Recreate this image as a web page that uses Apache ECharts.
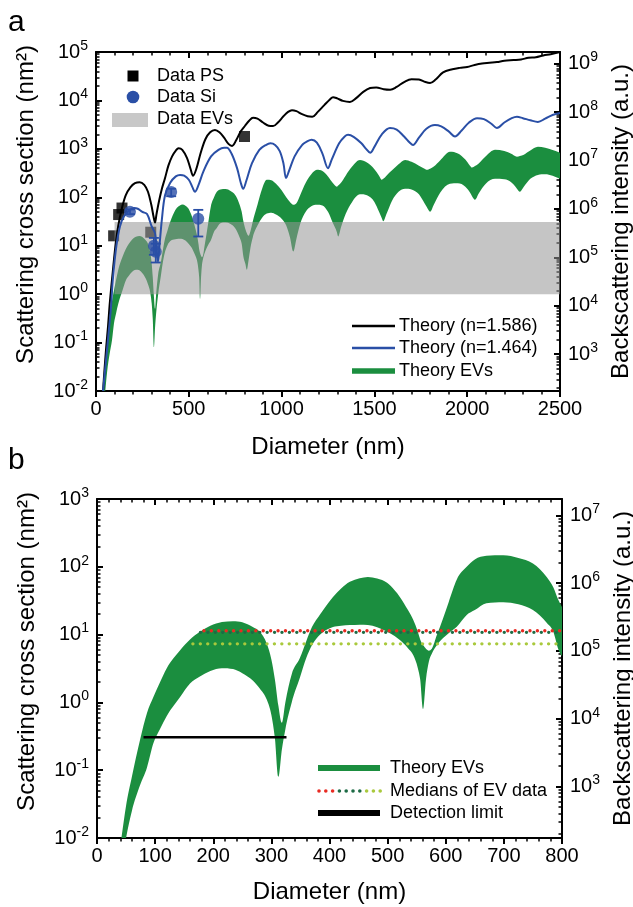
<!DOCTYPE html>
<html>
<head>
<meta charset="utf-8">
<script src="https://cdn.jsdelivr.net/npm/echarts@6/dist/echarts.min.js"></script>
<style>
  html, body { margin: 0; padding: 0; background: #fff; }
  #chart { width: 633px; height: 907px; }
</style>
</head>
<body>
<div id="chart"></div>
<script>
// ---------- data ----------
// Theory, polystyrene spheres (n = 1.586): diameter (nm) / cross section (nm^2)
const blackD = [38,45,55,65,75,90,105,120,140,160,185,210,235,260,280,298,310,318,326,340,355,372,390,410,430,445,465,490,510,523,540,565,590,615,641,665,690,715,733,755,780,803,825,846,870,900,930,954,980,1010,1035,1056,1080,1110,1140,1165,1195,1230,1260,1277,1300,1330,1368,1400,1440,1477,1510,1550,1585,1620,1660,1700,1740,1775,1800,1830,1870,1920,1960,2000,2040,2080,2120,2160,2200,2250,2290,2330,2370,2410,2450,2500];
const blackV = [0.01,0.025,0.08,0.22,0.7,2.8,10,26,60,110,160,195,205,180,130,70,40,30,45,85,150,250,450,700,920,1030,950,650,380,280,380,850,1600,2200,2450,2200,1700,1250,1150,1500,2300,3000,3800,4400,4200,3500,3000,2950,3500,4700,5800,6300,6000,5200,4700,4600,5800,8000,10500,11700,11000,9800,9300,11000,15000,18000,18500,17000,16600,19000,24000,27500,27000,24000,23000,27000,38000,44000,47000,49000,54000,58000,60000,62000,66000,68000,70000,76000,78000,85000,90000,100000];

// Theory, silica spheres (n = 1.464)
const blueD = [38,50,65,80,92,110,129,150,183,205,225,250,275,300,318,327,334,342,355,372,400,430,453,475,500,520,533,550,580,620,660,690,705,730,760,780,793,810,840,880,915,940,965,990,1010,1024,1040,1070,1110,1140,1162,1190,1220,1250,1270,1310,1340,1358,1390,1430,1455,1477,1500,1540,1584,1620,1660,1690,1708,1740,1780,1826,1860,1900,1934,1970,2010,2053,2090,2130,2160,2200,2240,2268,2300,2340,2381,2420,2460,2500];
const blueV = [0.01,0.03,0.12,0.5,2.3,10,25,40,55,60,58,50,45,25,18,8,4.7,10,35,110,200,270,290,280,230,160,130,170,350,700,950,1050,1050,800,400,200,150,220,500,950,1200,1300,1200,900,500,250,350,700,1200,1450,1550,1350,800,400,600,1300,1800,1950,1750,1300,1000,830,1100,2000,2700,2500,1800,1350,1200,1700,2600,3100,2900,2300,1800,2400,3500,4300,4100,3300,2700,3500,4300,4600,4300,3900,3600,4200,5000,5500];

// Theory, extracellular vesicles: band between lower and upper envelope
const bandD = [30,42,50,60,74,86,97,108,120,143,160,177,195,215,234,250,268,280,292,300,306,312,318,324,335,349,360,370,384,406,420,435,452,466,482,499,512,521,535,544,552,556,561,566,571,576,585,595,605,619,636,650,670,699,725,750,774,785,794,805,813,822,832,845,870,895,920,945,970,1000,1025,1045,1063,1080,1100,1130,1160,1190,1220,1250,1275,1298,1305,1320,1345,1380,1422,1460,1500,1525,1540,1548,1565,1595,1630,1665,1700,1740,1770,1783,1800,1820,1855,1907,1950,1990,2015,2026,2042,2062,2100,2150,2200,2240,2260,2268,2284,2305,2340,2381,2420,2460,2500];
const bandUpper = [0.002,0.01,0.03,0.08,0.28,0.7,1.2,1.95,3.2,5.9,8.5,11,13.5,15.3,15.8,15.2,12.9,11,7.4,4.3,2.2,0.9,0.5,1.0,2.6,4.5,8,13,20,36,48,60,68,71,67,58,45,36,23,16.6,11,8.5,7,6.2,5.8,6.2,10,17,30,65,100,128,145,148,135,112,70,50,32,22,18,16,20,32,70,150,230,225,190,140,100,80,70,75,110,200,300,370,350,270,200,166,175,200,280,430,590,520,380,280,230,240,280,360,480,590,540,450,390,370,390,430,580,870,800,600,450,410,440,500,700,955,900,780,700,690,710,760,920,1100,1050,950,830];
const bandLower = [0.0008,0.004,0.01,0.025,0.06,0.11,0.25,0.4,0.63,1.2,1.9,2.4,2.9,3.2,3.1,2.7,2.1,1.6,1.1,0.65,0.3,0.08,0.2,0.4,1.0,2.3,4.5,7,10,12.9,13.5,13.8,14,13.8,12.8,11,9.5,8.3,6.3,5,3.2,2.2,0.8,2.2,4.0,5.2,7,8.8,10.5,13,19.5,23,29,30,28,23,14.8,11,6,4.2,3.2,5,9,15,26,38,46,48,44,36,26,15,7.6,14,28,50,65,70,68,50,30,19,15.5,24,45,80,115,110,80,50,37,32,45,85,130,150,145,115,75,62,50,70,125,190,195,165,125,105,89,120,190,240,235,200,165,150,130,165,240,290,300,280,240];

// Measured points
const psD = [95,122,140,295,800];
const psV = [16,44,60,19,1800];
const siD = [183,312,322,405,551];
const siV = [50,10,7.5,128,36];
const siLo = [45,6.5,4.5,105,15.5];
const siHi = [56,14.5,11,150,55];

// Range of EV data (diameter span, cross-section span)
const evRangeD = [100, 2500];
const evRangeV = [1, 31];

// Medians of EV data and detection limit (panel b)
const medianRedD = [184, 800],   medianRedV = [11.4, 11.4];
const medianDarkD = [178, 800],  medianDarkV = [10.8, 10.8];
const medianLightD = [165, 800], medianLightV = [7.3, 7.3];
const detectD = [80, 326], detectV = [0.305, 0.305];

// Axes: ticks and decades
const xTicksA = [0, 500, 1000, 1500, 2000, 2500];
const xTicksB = [0, 100, 200, 300, 400, 500, 600, 700, 800];
const leftDecadesA = [-2, -1, 0, 1, 2, 3, 4, 5];
const rightDecadesA = [3, 4, 5, 6, 7, 8, 9];
const leftDecadesB = [-2, -1, 0, 1, 2, 3];
const rightDecadesB = [3, 4, 5, 6, 7];
// backscattering intensity (a.u.) = cross section (nm^2) * 10^offset
const INTENSITY_LOG_OFFSET = 4.24;

// ---------- styling ----------
const FONT = '"Liberation Sans", Arial, Helvetica, sans-serif';
const GREEN = '#1b8e3f';
const BLUE = '#2a4fa6';
const GRAY_FILL = 'rgba(150,150,150,0.55)';
const RED_DOT = '#e82a22';
const DARK_DOT = '#1d6b45';
const LIGHT_DOT = '#a9c93c';

const pow = e => Math.pow(10, e);
const pairs = (xs, ys) => xs.map((x, i) => [x, ys[i]]);

function minorValues(lo, hi) {
  const out = [];
  for (let e = Math.floor(lo); e <= Math.ceil(hi); e++) {
    for (let k = 2; k <= 9; k++) {
      const v = k * Math.pow(10, e);
      const l = Math.log10(v);
      if (l > lo + 1e-9 && l < hi - 1e-9) out.push(v);
    }
  }
  return out;
}

const RICH = {
  b: { fontSize: 20, lineHeight: 26, fontFamily: FONT, color: '#000' },
  s: { fontSize: 14, lineHeight: 14, verticalAlign: 'top', fontFamily: FONT, color: '#000' }
};
function decadeLabel(v) {
  const e = Math.round(Math.log10(v));
  return '{b|10}{s|' + e + '}';
}

function xAxes(grid, ticks, nameGap) {
  const common = {
    gridIndex: grid, type: 'value',
    min: ticks[0], max: ticks[ticks.length - 1], interval: ticks[1] - ticks[0],
    axisLine: { onZero: false, lineStyle: { color: '#000', width: 2 } },
    minorTick: { show: true, splitNumber: 5, length: 3.5, lineStyle: { color: '#000', width: 1.5 } },
    splitLine: { show: false }, minorSplitLine: { show: false }
  };
  return [
    Object.assign({}, common, {
      position: 'bottom',
      axisTick: { inside: false, length: 6, lineStyle: { color: '#000', width: 2 } },
      axisLabel: { fontSize: 20, color: '#000', fontFamily: FONT, margin: 8, formatter: v => String(v) },
      name: 'Diameter (nm)', nameLocation: 'middle', nameGap: nameGap,
      nameTextStyle: { fontSize: 24, color: '#000', fontFamily: FONT }
    }),
    Object.assign({}, common, {
      position: 'top',
      axisTick: { inside: true, length: 6, lineStyle: { color: '#000', width: 2 } },
      axisLabel: { show: false }
    })
  ];
}

function yAxes(grid, leftDec, rightDec) {
  const lo = leftDec[0], hi = leftDec[leftDec.length - 1];
  const rlo = lo + INTENSITY_LOG_OFFSET, rhi = hi + INTENSITY_LOG_OFFSET;
  const leftMajor = leftDec.map(pow);
  const rightMajor = rightDec.map(pow);
  const line = { onZero: false, lineStyle: { color: '#000', width: 2 } };
  return [
    {
      gridIndex: grid, type: 'log', logBase: 10, min: pow(lo), max: pow(hi), position: 'left',
      axisLine: line,
      axisTick: { inside: true, length: 6, customValues: leftMajor, lineStyle: { color: '#000', width: 2 } },
      axisLabel: { customValues: leftMajor, formatter: decadeLabel, rich: RICH, margin: 8 },
      splitLine: { show: false },
      name: 'Scattering cross section (nm\u00B2)', nameLocation: 'middle', nameRotate: 90, nameGap: 58,
      nameTextStyle: { fontSize: 24, color: '#000', fontFamily: FONT, padding: [0, 0, 0, 34] }
    },
    {
      gridIndex: grid, type: 'log', logBase: 10, min: pow(rlo), max: pow(rhi), position: 'right',
      axisLine: line,
      axisTick: { inside: true, length: 6, customValues: rightMajor, lineStyle: { color: '#000', width: 2 } },
      axisLabel: { customValues: rightMajor, formatter: decadeLabel, rich: RICH, margin: 8 },
      splitLine: { show: false },
      name: 'Backscattering intensity (a.u.)', nameLocation: 'middle', nameRotate: 90, nameGap: 47,
      nameTextStyle: { fontSize: 24, color: '#000', fontFamily: FONT }
    },
    {
      gridIndex: grid, type: 'log', logBase: 10, min: pow(lo), max: pow(hi), position: 'left',
      axisLine: { show: false, onZero: false },
      axisTick: { inside: true, length: 3.5, customValues: minorValues(lo, hi), lineStyle: { color: '#000', width: 1.5 } },
      axisLabel: { show: false }, splitLine: { show: false }
    },
    {
      gridIndex: grid, type: 'log', logBase: 10, min: pow(rlo), max: pow(rhi), position: 'right',
      axisLine: { show: false, onZero: false },
      axisTick: { inside: true, length: 3.5, customValues: minorValues(rlo, rhi), lineStyle: { color: '#000', width: 1.5 } },
      axisLabel: { show: false }, splitLine: { show: false }
    }
  ];
}

// Shape-preserving cubic segments (Fritsch-Carlson) through pixel points sorted by x.
function cubicSegments(pts) {
  const n = pts.length, dx = [], s = [], m = [];
  for (let i = 0; i < n - 1; i++) {
    dx[i] = pts[i + 1][0] - pts[i][0];
    s[i] = dx[i] ? (pts[i + 1][1] - pts[i][1]) / dx[i] : 0;
  }
  m[0] = s[0]; m[n - 1] = s[n - 2];
  for (let i = 1; i < n - 1; i++) {
    if (s[i - 1] * s[i] <= 0) { m[i] = 0; continue; }
    let t = (s[i - 1] * dx[i] + s[i] * dx[i - 1]) / (dx[i - 1] + dx[i]);
    const lim = 3 * Math.min(Math.abs(s[i - 1]), Math.abs(s[i]));
    if (Math.abs(t) > lim) t = Math.sign(t) * lim;
    m[i] = t;
  }
  const segs = [];
  for (let i = 0; i < n - 1; i++) {
    const h = dx[i] / 3;
    segs.push([pts[i][0] + h, pts[i][1] + m[i] * h, pts[i + 1][0] - h, pts[i + 1][1] - m[i + 1] * h]);
  }
  return segs;
}

// Filled EV band: upper envelope forward, lower envelope back.
function bandSeries(xi, yi) {
  return {
    type: 'custom', xAxisIndex: xi, yAxisIndex: yi, silent: true, z: 1,
    data: bandD.map((d, i) => [d, bandLower[i], bandUpper[i]]),
    encode: { x: 0, y: [1, 2] },
    renderItem: function (params, api) {
      if (params.dataIndex !== 0) return null;
      const up = bandD.map((d, i) => api.coord([d, bandUpper[i]]));
      const lo = bandD.map((d, i) => api.coord([d, bandLower[i]]));
      const su = cubicSegments(up), sl = cubicSegments(lo);
      const f = v => v.toFixed(2);
      let path = 'M' + f(up[0][0]) + ' ' + f(up[0][1]);
      su.forEach((c, i) => {
        path += 'C' + f(c[0]) + ' ' + f(c[1]) + ' ' + f(c[2]) + ' ' + f(c[3]) + ' ' + f(up[i + 1][0]) + ' ' + f(up[i + 1][1]);
      });
      const n = lo.length;
      path += 'L' + f(lo[n - 1][0]) + ' ' + f(lo[n - 1][1]);
      for (let i = n - 2; i >= 0; i--) {
        const c = sl[i];
        path += 'C' + f(c[2]) + ' ' + f(c[3]) + ' ' + f(c[0]) + ' ' + f(c[1]) + ' ' + f(lo[i][0]) + ' ' + f(lo[i][1]);
      }
      path += 'Z';
      const cs = params.coordSys;
      return {
        type: 'path',
        shape: { pathData: path },
        style: { fill: GREEN },
        clipPath: { type: 'rect', shape: { x: cs.x, y: cs.y, width: cs.width, height: cs.height } }
      };
    }
  };
}

function dottedLine(xi, yi, xs, ys, color) {
  return {
    type: 'line', xAxisIndex: xi, yAxisIndex: yi, data: pairs(xs, ys), symbol: 'none', silent: true,
    lineStyle: { color: color, width: 3.4, type: [0.01, 7.4], cap: 'round' }, z: 5
  };
}

// ---------- legend drawing ----------
const legendText = (x, y, text) => ({
  type: 'text', x: x, y: y,
  style: { text: text, font: '18px ' + FONT, fill: '#000', textVerticalAlign: 'middle', verticalAlign: 'middle' }
});
const legendLine = (x1, x2, y, color, w) => ({
  type: 'line', shape: { x1: x1, y1: y, x2: x2, y2: y }, style: { stroke: color, lineWidth: w }
});

const medianDots = [];
const dotColors = [RED_DOT, RED_DOT, RED_DOT, DARK_DOT, DARK_DOT, DARK_DOT, DARK_DOT, LIGHT_DOT, LIGHT_DOT, LIGHT_DOT];
dotColors.forEach((c, i) => medianDots.push({
  type: 'circle', shape: { cx: 319 + i * 6.8, cy: 791, r: 1.8 }, style: { fill: c }
}));

const graphics = [
  { type: 'text', x: 8, y: 8, style: { text: 'a', font: '30px ' + FONT, fill: '#000' } },
  { type: 'text', x: 8, y: 446, style: { text: 'b', font: '30px ' + FONT, fill: '#000' } },
  // panel a, data legend
  { type: 'rect', shape: { x: 127.5, y: 70.5, width: 11, height: 11 }, style: { fill: '#000' } },
  legendText(157, 76, 'Data PS'),
  { type: 'circle', shape: { cx: 133, cy: 97, r: 6.3 }, style: { fill: BLUE } },
  legendText(157, 97, 'Data Si'),
  { type: 'rect', shape: { x: 112, y: 113, width: 36, height: 14 }, style: { fill: '#c8c8c8' } },
  legendText(157, 119, 'Data EVs'),
  // panel a, theory legend
  legendLine(352, 395, 326, '#000', 2.5),
  legendText(399, 326, 'Theory (n=1.586)'),
  legendLine(352, 395, 348, BLUE, 2.5),
  legendText(399, 348, 'Theory (n=1.464)'),
  legendLine(352, 395, 371, GREEN, 5.5),
  legendText(399, 371, 'Theory EVs'),
  // panel b legend
  legendLine(318, 380, 768, GREEN, 6),
  legendText(390, 768, 'Theory EVs'),
  ...medianDots,
  legendText(390, 791, 'Medians of EV data'),
  legendLine(318, 380, 813, '#000', 6),
  legendText(390, 813, 'Detection limit')
];

// ---------- chart ----------
const chart = echarts.init(document.getElementById('chart'), null, { renderer: 'canvas' });

const option = {
  animation: false,
  backgroundColor: '#fff',
  textStyle: { fontFamily: FONT },
  grid: [
    { left: 96, top: 52, width: 464, height: 339, outerBoundsMode: 'none', containLabel: false },
    { left: 97, top: 499, width: 465, height: 339, outerBoundsMode: 'none', containLabel: false }
  ],
  xAxis: [...xAxes(0, xTicksA, 44), ...xAxes(1, xTicksB, 42)],
  yAxis: [...yAxes(0, leftDecadesA, rightDecadesA), ...yAxes(1, leftDecadesB, rightDecadesB)],
  series: [
    // panel a
    bandSeries(0, 0),
    {
      type: 'scatter', xAxisIndex: 0, yAxisIndex: 0, data: pairs(psD, psV),
      symbol: 'rect', symbolSize: 11, itemStyle: { color: '#000' }, z: 3
    },
    {
      type: 'custom', xAxisIndex: 0, yAxisIndex: 0, silent: true, z: 4,
      data: [[evRangeD[0], evRangeV[0], evRangeD[1], evRangeV[1]]],
      encode: { x: [0, 2], y: [1, 3] },
      renderItem: function (params, api) {
        const p0 = api.coord([api.value(0), api.value(1)]);
        const p1 = api.coord([api.value(2), api.value(3)]);
        return {
          type: 'rect',
          shape: { x: p0[0], y: p1[1], width: p1[0] - p0[0], height: p0[1] - p1[1] },
          style: { fill: GRAY_FILL }
        };
      }
    },
    {
      type: 'line', xAxisIndex: 0, yAxisIndex: 0, data: pairs(blackD, blackV), symbol: 'none',
      smooth: 0.35, lineStyle: { color: '#000', width: 2 }, z: 5
    },
    {
      type: 'line', xAxisIndex: 0, yAxisIndex: 0, data: pairs(blueD, blueV), symbol: 'none',
      smooth: 0.35, lineStyle: { color: BLUE, width: 2 }, z: 5
    },
    {
      type: 'custom', xAxisIndex: 0, yAxisIndex: 0, z: 6,
      data: siD.map((d, i) => [d, siLo[i], siHi[i]]),
      encode: { x: 0, y: [1, 2] },
      renderItem: function (params, api) {
        const top = api.coord([api.value(0), api.value(2)]);
        const bot = api.coord([api.value(0), api.value(1)]);
        const hw = 5;
        const st = { stroke: BLUE, lineWidth: 1.8 };
        return {
          type: 'group',
          children: [
            { type: 'line', shape: { x1: top[0], y1: top[1], x2: bot[0], y2: bot[1] }, style: st },
            { type: 'line', shape: { x1: top[0] - hw, y1: top[1], x2: top[0] + hw, y2: top[1] }, style: st },
            { type: 'line', shape: { x1: bot[0] - hw, y1: bot[1], x2: bot[0] + hw, y2: bot[1] }, style: st }
          ]
        };
      }
    },
    {
      type: 'scatter', xAxisIndex: 0, yAxisIndex: 0, data: pairs(siD, siV),
      symbol: 'circle', symbolSize: 12, itemStyle: { color: BLUE }, z: 7
    },
    // panel b
    bandSeries(2, 4),
    dottedLine(2, 4, medianLightD, medianLightV, LIGHT_DOT),
    dottedLine(2, 4, medianDarkD, medianDarkV, DARK_DOT),
    dottedLine(2, 4, medianRedD, medianRedV, RED_DOT),
    {
      type: 'line', xAxisIndex: 2, yAxisIndex: 4, data: pairs(detectD, detectV), symbol: 'none',
      lineStyle: { color: '#000', width: 2.5 }, z: 5
    }
  ],
  graphic: graphics
};

chart.setOption(option);
</script>
</body>
</html>
